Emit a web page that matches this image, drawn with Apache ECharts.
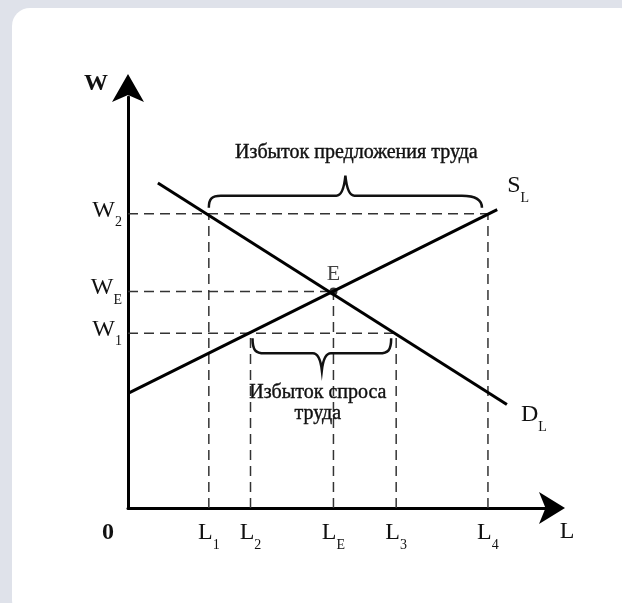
<!DOCTYPE html>
<html>
<head>
<meta charset="utf-8">
<script src="https://cdn.jsdelivr.net/npm/echarts@6/dist/echarts.min.js"></script>
<style>
  html, body { margin: 0; padding: 0; background: #dfe2ea; }
  #panel { position: absolute; left: 12px; top: 8px; width: 626px; height: 610px; background: #fff; border-radius: 18px; }
  #main { position: absolute; left: 0; top: 0; width: 622px; height: 603px; }
</style>
</head>
<body>
<div id="panel"></div>
<div id="main"></div>
<script>
var chart = echarts.init(document.getElementById('main'));

var serif = '"Liberation Serif", "Times New Roman", serif';

// количество труда (L) и ставки зарплаты (W)
var lValues = [19.2, 29.1, 48.8, 63.7, 85.5];
var lSubs = ['1', '2', 'E', '3', '4'];
var wValues = [42.5, 52.7, 71.6];
var wSubs = ['1', 'E', '2'];

// кривые предложения и спроса
var supplyL = [0, 87.7];
var supplyW = [27.9, 72.6];
var demandL = [7.1, 90.0];
var demandW = [79.1, 25.2];
var eqPoint = [48.8, 52.7];

// пунктир: [W, до L] и [L, до W]
var hGuides = [[wValues[2], lValues[4]], [wValues[1], lValues[2]], [wValues[0], lValues[3]]];
var vGuides = [[lValues[0], wValues[2]], [lValues[1], wValues[0]], [lValues[2], wValues[1]],
               [lValues[3], wValues[0]], [lValues[4], wValues[2]]];

// фигурные скобки
var braces = [[lValues[0], lValues[4], wValues[2]], [lValues[1], lValues[3], wValues[0]]];
var braceLabels = ['Избыток предложения труда', 'Избыток спроса\nтруда'];

function pairs(xs, ys) {
    return xs.map(function (x, i) { return [x, ys[i]]; });
}

function nearest(arr, v) {
    var best = 0;
    arr.forEach(function (a, i) { if (Math.abs(a - v) < Math.abs(arr[best] - v)) best = i; });
    return best;
}

var dashStyle = { color: '#333', width: 1.5, type: [10, 6] };
var guideSeries = [];
hGuides.forEach(function (g) {
    guideSeries.push({ type: 'line', data: [[0, g[0]], [g[1], g[0]]], symbol: 'none', silent: true, lineStyle: dashStyle, z: 1 });
});
vGuides.forEach(function (g) {
    guideSeries.push({ type: 'line', data: [[g[0], 0], [g[0], g[1]]], symbol: 'none', silent: true, lineStyle: dashStyle, z: 1 });
});

var rich = {
    m: { fontFamily: serif, fontSize: 24, color: '#111', verticalAlign: 'bottom', padding: [0, 0, 7, 0] },
    s: { fontFamily: serif, fontSize: 14, color: '#111', verticalAlign: 'bottom' },
    z: { fontFamily: serif, fontSize: 24, fontWeight: 'bold', color: '#111', padding: [0, 40, 0, 0] }
};

function braceItem(params, api) {
    var a = api.coord([api.value(0), api.value(2)]);
    var b = api.coord([api.value(1), api.value(2)]);
    var path, tx, ty, x1, x2, xm, y, yb, ym, yt;
    if (params.dataIndex === 0) {
        x1 = a[0]; x2 = b[0] - 6; y = a[1];
        yb = y - 6; ym = y - 18; yt = y - 38; xm = (x1 + x2) / 2;
        path = 'M' + x1 + ' ' + yb + ' C' + x1 + ' ' + (ym + 3) + ' ' + (x1 + 3) + ' ' + ym + ' ' + (x1 + 12) + ' ' + ym +
            ' L' + (xm - 9) + ' ' + ym + ' Q' + (xm - 2) + ' ' + ym + ' ' + xm + ' ' + yt +
            ' Q' + (xm + 2) + ' ' + ym + ' ' + (xm + 9) + ' ' + ym +
            ' L' + (x2 - 20) + ' ' + ym + ' C' + (x2 - 6) + ' ' + ym + ' ' + x2 + ' ' + (ym + 5) + ' ' + x2 + ' ' + yb;
        tx = xm + 11; ty = yt - 23;
    } else {
        x1 = a[0] + 2; x2 = b[0] - 5; y = a[1];
        yb = y + 5; ym = y + 20; yt = y + 37; xm = (x1 + x2) / 2;
        path = 'M' + x1 + ' ' + yb + ' C' + x1 + ' ' + (ym - 3) + ' ' + (x1 + 3) + ' ' + ym + ' ' + (x1 + 12) + ' ' + ym +
            ' L' + (xm - 9) + ' ' + ym + ' Q' + (xm - 2) + ' ' + ym + ' ' + xm + ' ' + yt +
            ' Q' + (xm + 2) + ' ' + ym + ' ' + (xm + 9) + ' ' + ym +
            ' L' + (x2 - 12) + ' ' + ym + ' C' + (x2 - 3) + ' ' + ym + ' ' + x2 + ' ' + (ym - 3) + ' ' + x2 + ' ' + yb;
        tx = xm - 4; ty = yt + 33;
    }
    return {
        type: 'group',
        children: [
            { type: 'path', shape: { pathData: path }, style: { stroke: '#111', lineWidth: 2.5, fill: null } },
            { type: 'text', style: { text: braceLabels[params.dataIndex], x: tx, y: ty, align: 'center', verticalAlign: 'middle',
                fontFamily: serif, fontSize: 20, lineHeight: 21, fill: '#111', stroke: '#111', lineWidth: 0.4 } }
        ]
    };
}

var option = {
    animation: false,
    grid: { left: 128, right: 73, top: 97, bottom: 95 },
    xAxis: {
        type: 'value', min: 0, max: 100,
        name: 'L', nameLocation: 'end', nameGap: 18,
        nameTextStyle: { fontFamily: serif, fontSize: 24, color: '#111', align: 'center', verticalAlign: 'top', padding: [12, 0, 0, 0] },
        axisLine: { show: true, symbol: ['none', 'arrow'], symbolSize: [24, 26], symbolOffset: [0, 16],
            lineStyle: { color: '#000', width: 3 } },
        axisTick: { show: false },
        splitLine: { show: false },
        axisLabel: {
            customValues: [0].concat(lValues), margin: 13, rich: rich,
            formatter: function (v) {
                if (v === 0) return '{z|0}';
                return '{m|L}{s|' + lSubs[nearest(lValues, v)] + '}';
            }
        }
    },
    yAxis: {
        type: 'value', min: 0, max: 100,
        name: 'W', nameLocation: 'end', nameGap: 13,
        nameTextStyle: { fontFamily: serif, fontSize: 24, fontWeight: 'bold', color: '#111', align: 'right', verticalAlign: 'middle', padding: [0, 20, 0, 0] },
        axisLine: { show: true, symbol: ['none', 'arrow'], symbolSize: [24, 28], symbolOffset: [0, 23],
            lineStyle: { color: '#000', width: 3 } },
        axisTick: { show: false },
        splitLine: { show: false },
        axisLabel: {
            customValues: wValues, margin: 6, rich: rich,
            formatter: function (v) {
                return '{m|W}{s|' + wSubs[nearest(wValues, v)] + '}';
            }
        }
    },
    series: guideSeries.concat([
        {
            type: 'line', data: pairs(supplyL, supplyW), symbol: 'none', z: 3,
            lineStyle: { color: '#000', width: 3 },
            endLabel: { show: true, formatter: '{m|S}{s|L}', rich: rich, offset: [2, -20] }
        },
        {
            type: 'line', data: pairs(demandL, demandW), symbol: 'none', z: 3,
            lineStyle: { color: '#000', width: 3 },
            endLabel: { show: true, formatter: '{m|D}{s|L}', rich: rich, offset: [6, 14] }
        },
        {
            type: 'scatter', data: [eqPoint], symbolSize: 8, z: 4,
            itemStyle: { color: '#000' },
            label: { show: true, position: 'top', distance: 2, formatter: 'E', fontFamily: serif, fontSize: 22, color: '#111' }
        },
        {
            type: 'custom', data: braces, renderItem: braceItem, clip: false, z: 5, silent: true
        }
    ])
};

chart.setOption(option);
</script>
</body>
</html>
